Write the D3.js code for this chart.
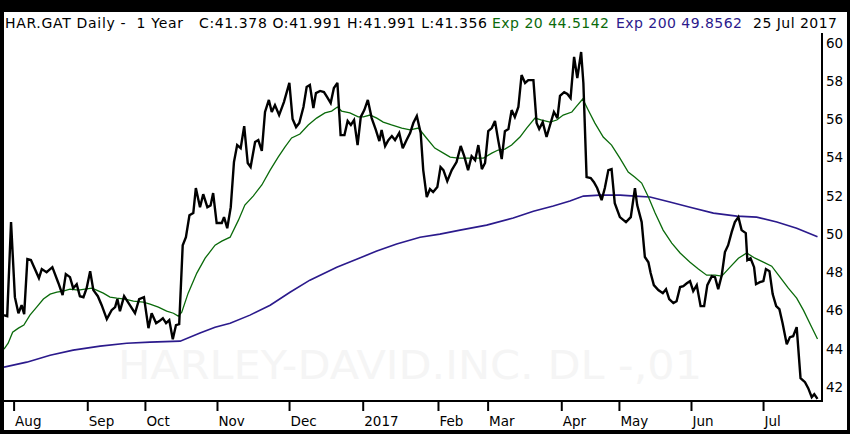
<!DOCTYPE html>
<html>
<head>
<meta charset="utf-8">
<script src="https://cdn.jsdelivr.net/npm/d3@7"></script>
<style>
  html, body { margin: 0; padding: 0; background: #000; }
  svg { display: block; }
  .hdr { font-family: "DejaVu Sans", Verdana, sans-serif; font-size: 14px; white-space: pre; }
  .axis text { font-family: "DejaVu Sans", Verdana, sans-serif; font-size: 13.5px; fill: #000; }
</style>
</head>
<body>
<div id="chart"></div>
<script>
// session index (trading days from start of window) and price
var closeData = [
  [0,45.76],[1,45.71],[2.2,50.63],[3.4,46.70],[4.5,45.86],[5.5,46.28],[6.3,45.81],[7.3,48.69],[8.4,48.64],
  [10.9,47.70],[11.8,48.17],[13.3,48.01],[15.1,48.27],[17,47.43],[18.3,46.81],[19.3,47.91],[20.6,47.75],
  [21.6,47.17],[22.7,47.38],[23.7,46.75],[24.8,46.70],[25.8,47.17],[26.9,48.06],[27.9,47.07],[29.3,46.75],
  [30.5,46.28],[32.1,45.55],[33.6,46.02],[34.7,46.18],[35.4,46.60],[36.2,45.97],[37.5,46.75],[39.3,46.28],
  [40.9,45.86],[42.2,46.60],[43.7,46.70],[45.1,45.08],[46.1,45.86],[47.5,45.34],[48.5,45.45],[49.6,45.60],
  [50.6,45.34],[51.6,45.50],[52.7,44.50],[53.7,45.24],[54.7,45.29],[55.8,49.42],[56.8,49.84],[57.9,50.99],
  [59.1,51.10],[59.9,52.41],[61.2,51.41],[62.2,52.09],[63.5,51.41],[64.5,51.50],[65.3,52.15],[66.4,50.58],
  [68,50.58],[68.7,50.89],[69.7,50.31],[70.8,51.41],[71.8,53.77],[72.8,54.66],[73.9,54.50],[75,55.65],
  [76.1,53.72],[77,53.51],[78.4,54.82],[79.4,54.92],[80.5,54.35],[81.5,56.39],[82.7,57.02],[83.6,56.39],
  [84.6,56.75],[85.9,56.23],[87.4,56.91],[89.1,57.91],[90.1,56.02],[91.2,55.60],[92.2,55.81],[93.5,56.65],
  [94.5,57.70],[95.5,57.80],[96.6,56.60],[97.4,57.38],[98.7,57.49],[99.9,57.43],[100.9,57.17],[102,56.86],
  [103,57.64],[104.1,57.91],[105.1,55.18],[106.3,55.18],[107.3,55.92],[108.3,55.71],[109.3,55.97],
  [110.4,54.66],[111.4,56.13],[112.5,56.49],[113.6,57.02],[114.8,56.07],[116.1,55.45],[117.2,54.87],
  [117.9,55.45],[119,54.61],[120,54.92],[121.1,55.13],[122.1,54.92],[123.4,55.29],[124.5,54.50],
  [125.7,54.92],[126.8,55.29],[127.8,55.81],[128.9,56.18],[130.1,55.29],[130.9,53.35],[132,51.94],
  [133,52.36],[134,52.20],[135.3,52.46],[136.3,53.51],[137.2,53.35],[138.4,52.77],[139.8,53.35],
  [141.3,53.77],[142.6,54.61],[143.7,54.08],[144.9,53.35],[146,54.08],[147.1,53.87],[148.1,54.66],
  [149.2,53.40],[150.2,53.72],[151.2,55.39],[152.3,55.55],[153.3,55.92],[154.3,54.92],[155.4,53.93],
  [156.4,55.39],[157.5,55.50],[158.5,56.49],[159.5,56.13],[160.6,56.65],[161.6,58.32],[162.7,57.91],
  [163.7,58.06],[165.3,58.06],[166.3,55.81],[167.1,55.50],[168.2,55.86],[169.4,55.08],[170.5,55.71],
  [171.7,56.39],[172.8,56.07],[173.6,57.23],[174.9,57.43],[175.9,57.33],[176.9,57.12],[178,59.27],
  [179,58.17],[180.2,59.53],[180.9,57.91],[181.9,52.98],[183.2,52.93],[184.2,52.72],[185.2,52.41],
  [186.6,51.78],[187.6,52.41],[188.7,53.35],[189.7,53.40],[190.7,51.62],[192.3,50.89],[194.2,50.63],
  [195.7,50.89],[197,52.41],[197.7,51.52],[199.1,50.63],[200.1,48.80],[201.2,48.53],[201.9,47.96],
  [202.9,47.33],[204.3,47.07],[205.7,46.91],[206.7,47.12],[207.7,46.60],[209,46.39],[210,46.49],
  [211.1,47.23],[212.1,47.28],[213.2,47.43],[214.2,47.54],[215.2,47.02],[216.3,47.33],[217.5,46.23],
  [218.6,46.23],[219.6,47.33],[221,47.80],[222,47.75],[223,47.12],[224.1,47.85],[225.1,49.06],
  [226.1,49.42],[227.2,50.10],[228.2,50.63],[229.3,50.89],[230.3,50.21],[231.6,50.05],[232.1,48.64],
  [233.1,48.74],[234.2,48.27],[234.8,47.38],[236,47.49],[237.1,47.54],[237.9,48.17],[239,48.06],
  [240,46.86],[241.1,46.23],[242.1,46.07],[243.1,45.34],[244.4,44.24],[245.4,44.61],[246.4,44.66],
  [247.5,45.13],[248.7,42.46],[250.1,42.25],[251.1,41.94],[252.2,41.47],[253,41.62],[254,41.378]
];

var ema20Data = [
  [0,43.98],[1.3,44.29],[2.7,44.87],[4.5,45.08],[6.2,45.24],[8.1,45.76],[10.2,46.18],[12.3,46.60],
  [14.4,46.86],[16.5,46.96],[18.5,47.02],[20.6,47.12],[23.2,47.07],[25.3,47.12],[27.4,47.17],[28.9,47.07],
  [31,46.91],[33.1,46.70],[35.2,46.65],[37.8,46.60],[40.4,46.49],[43.5,46.44],[45.6,46.34],[48.2,46.18],
  [50.8,45.97],[52.9,45.86],[54.4,45.71],[55.5,45.92],[57.5,46.91],[60.2,47.96],[62.8,48.74],[65.9,49.42],
  [68,49.63],[70.6,49.84],[73.2,50.73],[75.2,51.52],[77.8,51.99],[80.5,52.57],[83.1,53.35],[85.6,54.03],
  [87.7,54.55],[89.8,55.03],[92.4,55.24],[95,55.71],[97.6,56.07],[100.2,56.34],[102.3,56.44],[104.1,56.65],
  [105.4,56.44],[108,56.34],[110.6,56.13],[112.2,56.13],[114.3,56.23],[116.4,56.07],[118.4,55.86],
  [121,55.71],[124.2,55.55],[126.8,55.45],[129.4,55.55],[131.9,55.03],[134.5,54.50],[137.2,54.24],
  [139.3,54.03],[141.8,53.98],[144.5,53.98],[147.1,53.98],[149.7,53.98],[152.3,54.24],[154.3,54.40],
  [156.4,54.45],[158.5,54.66],[161.1,55.08],[163.2,55.55],[165.8,56.07],[167.9,55.97],[170.5,55.86],
  [172.6,55.97],[174.6,56.23],[177.3,56.39],[178.8,56.70],[180.7,57.07],[182.4,56.49],[184.5,55.81],
  [187.1,55.08],[189.7,54.66],[192.3,53.98],[194.9,53.25],[197,52.98],[199.1,52.67],[201.2,51.94],
  [203.3,51.10],[205.8,50.21],[208.5,49.53],[211.1,49.01],[214.2,48.53],[216.8,48.17],[219.4,47.85],
  [222,47.85],[224.1,47.80],[226.7,48.27],[229.3,48.74],[231.9,49.01],[234.5,48.74],[237.1,48.53],
  [239.7,48.32],[242.3,47.75],[244.9,47.17],[247.5,46.65],[249.6,46.02],[252.2,45.13],[254,44.5142]
];

var ema200Data = [
  [0,43.04],[7.1,43.30],[14.4,43.66],[21.6,43.93],[30,44.14],[38.3,44.29],[45.6,44.35],[55,44.40],
  [61.2,44.82],[65.9,45.13],[70.6,45.34],[76.8,45.76],[83.1,46.28],[89.3,46.96],[95.5,47.59],[103.9,48.27],
  [110.1,48.69],[116.4,49.11],[122.6,49.48],[129.9,49.84],[136.1,50.00],[142.4,50.21],[150.7,50.47],
  [159,50.84],[165.3,51.20],[171.5,51.47],[176.7,51.73],[180.9,51.99],[186.1,52.04],[192.4,52.04],
  [197,51.99],[201.7,51.94],[207.9,51.68],[214.2,51.41],[221.5,51.10],[228.8,50.94],[235,50.89],
  [241.3,50.63],[247.5,50.31],[254,49.8562]
];

var monthTicks = [3, 26, 44, 66.5, 89, 112, 135.5, 151, 174, 192, 214.5, 237];
var monthLabels = ["Aug", "Sep", "Oct", "Nov", "Dec", "2017", "Feb", "Mar", "Apr", "May", "Jun", "Jul"];
var priceTicks = [42, 44, 46, 48, 50, 52, 54, 56, 58, 60];

var W = 850, H = 434;
var plotL = 4, plotR = 822, plotT = 33, plotB = 401;

var svg = d3.select("#chart").append("svg").attr("width", W).attr("height", H);

// black frame + white canvas
svg.append("rect").attr("width", W).attr("height", H).attr("fill", "#000");
svg.append("rect").attr("x", 4).attr("y", 12).attr("width", 843).attr("height", 418).attr("fill", "#fff");

var x = d3.scaleLinear().domain([0, 254]).range([4, 817.5]);
var y = d3.scaleLinear().domain([42, 60]).range([387, 43]);

svg.append("defs").append("clipPath").attr("id", "plotclip")
  .append("rect").attr("x", plotL).attr("y", plotT).attr("width", plotR - plotL).attr("height", plotB - plotT);

// watermark
svg.append("text")
  .attr("x", 118).attr("y", 379)
  .attr("font-family", "DejaVu Sans, sans-serif")
  .attr("font-size", 39)
  .attr("textLength", 584).attr("lengthAdjust", "spacingAndGlyphs")
  .attr("fill", "#f5f5f5")
  .text("HARLEY-DAVID.INC. DL -,01");

var line = d3.line().x(function (d) { return x(d[0]); }).y(function (d) { return y(d[1]); });

var g = svg.append("g").attr("clip-path", "url(#plotclip)");
g.append("path").datum(ema200Data).attr("d", line)
  .attr("fill", "none").attr("stroke", "#2b1a8c").attr("stroke-width", 1.6);
g.append("path").datum(ema20Data).attr("d", line)
  .attr("fill", "none").attr("stroke", "#0a6a0a").attr("stroke-width", 1.3);
g.append("path").datum(closeData).attr("d", line)
  .attr("fill", "none").attr("stroke", "#000").attr("stroke-width", 2.4)
  .attr("stroke-linejoin", "miter").attr("stroke-miterlimit", 3);

// axes
var xAxis = svg.append("g").attr("class", "axis")
  .attr("transform", "translate(0," + plotB + ")")
  .call(d3.axisBottom(x).tickValues(monthTicks)
    .tickFormat(function (d, i) { return monthLabels[i]; })
    .tickSize(10).tickPadding(5));
xAxis.select(".domain").remove();
xAxis.selectAll(".tick line").attr("stroke", "#000").attr("stroke-width", 2);
xAxis.selectAll(".tick text").attr("text-anchor", "start").attr("x", 1);

var yAxis = svg.append("g").attr("class", "axis")
  .attr("transform", "translate(" + plotR + ",0)")
  .call(d3.axisRight(y).tickValues(priceTicks).tickSize(0).tickPadding(4));
yAxis.select(".domain").remove();

svg.append("line").attr("x1", plotL).attr("x2", plotR + 1).attr("y1", plotB).attr("y2", plotB)
  .attr("stroke", "#000").attr("stroke-width", 2);
svg.append("line").attr("x1", plotR).attr("x2", plotR).attr("y1", plotT).attr("y2", plotB)
  .attr("stroke", "#000").attr("stroke-width", 2);

// header line, each piece stretched to the width it takes in the original
var header = [
  { t: "HAR.GAT Daily -  1 Year", x: 5, w: 178, c: "#000" },
  { t: "C:41.378 O:41.991 H:41.991 L:41.356", x: 199, w: 288, c: "#000" },
  { t: "Exp 20 44.5142", x: 492, w: 117, c: "#0a6a0a" },
  { t: "Exp 200 49.8562", x: 616, w: 126, c: "#2b1a8c" },
  { t: "25 Jul 2017", x: 753, w: 84, c: "#000" }
];
svg.selectAll("text.hdr").data(header).enter().append("text")
  .attr("class", "hdr")
  .attr("x", function (d) { return d.x; })
  .attr("y", 28)
  .attr("textLength", function (d) { return d.w; })
  .attr("lengthAdjust", "spacing")
  .attr("fill", function (d) { return d.c; })
  .text(function (d) { return d.t; });
</script>
</body>
</html>
